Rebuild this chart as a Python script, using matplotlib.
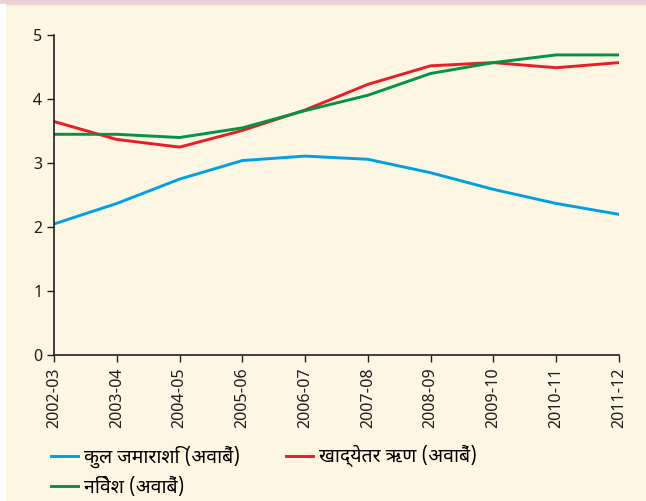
import matplotlib
matplotlib.use('Agg')
import matplotlib.pyplot as plt
from matplotlib.patches import Rectangle

years = ['2002-03', '2003-04', '2004-05', '2005-06', '2006-07',
         '2007-08', '2008-09', '2009-10', '2010-11', '2011-12']
deposits = [2.05, 2.37, 2.75, 3.04, 3.11, 3.06, 2.85, 2.59, 2.37, 2.20]
nonfood_credit = [3.65, 3.37, 3.25, 3.51, 3.83, 4.23, 4.52, 4.57, 4.49, 4.57]
investment = [3.45, 3.45, 3.40, 3.55, 3.82, 4.06, 4.40, 4.57, 4.69, 4.69]
labels = ['कुल जमाराशि (अवाबैं)', 'खाद्येतर ऋण (अवाबैं)', 'निवेश (अवाबैं)']

plt.rcParams['font.family'] = ['Noto Sans Devanagari', 'Lohit Devanagari',
                               'FreeSans', 'Noto Sans', 'DejaVu Sans']

bg = '#FDF6E2'
fig = plt.figure(figsize=(6.46, 5.01), dpi=100, facecolor=bg)
fig.patches.append(Rectangle((0, 0.993), 1, 0.007, transform=fig.transFigure,
                             color='#ECD3D6', zorder=0))
fig.patches.append(Rectangle((0, 0), 0.007, 0.993, transform=fig.transFigure,
                             color='white', zorder=0))

ax = fig.add_axes([0.0836, 0.291, 0.8745, 0.639])
ax.set_facecolor(bg)

x = range(len(years))
l1, = ax.plot(x, deposits, color='#00A0E3', lw=2.1)
l2, = ax.plot(x, nonfood_credit, color='#ED1C24', lw=2.1)
l3, = ax.plot(x, investment, color='#009444', lw=2.1)

ax.set_xlim(0, len(years) - 1)
ax.set_ylim(0, 5)
ax.set_yticks(range(6))
ax.set_xticks(list(x))
ax.set_xticklabels(years, rotation=90, fontsize=12)
ax.tick_params(direction='out', length=5, width=1, colors='#231F20',
               labelsize=12)
for s in ['top', 'right']:
    ax.spines[s].set_visible(False)
for s in ['left', 'bottom']:
    ax.spines[s].set_color('#231F20')
    ax.spines[s].set_linewidth(1.2)

# row-major order: blue, red on first row, green below
fig.legend([l1, l3, l2], [labels[0], labels[2], labels[1]], ncol=2,
           loc='lower left', bbox_to_anchor=(0.052, -0.028), frameon=False,
           fontsize=14, handlelength=1.4, handletextpad=0.3,
           columnspacing=2.35, labelspacing=0.5)

plt.savefig('out.png', dpi=100, facecolor=bg)
